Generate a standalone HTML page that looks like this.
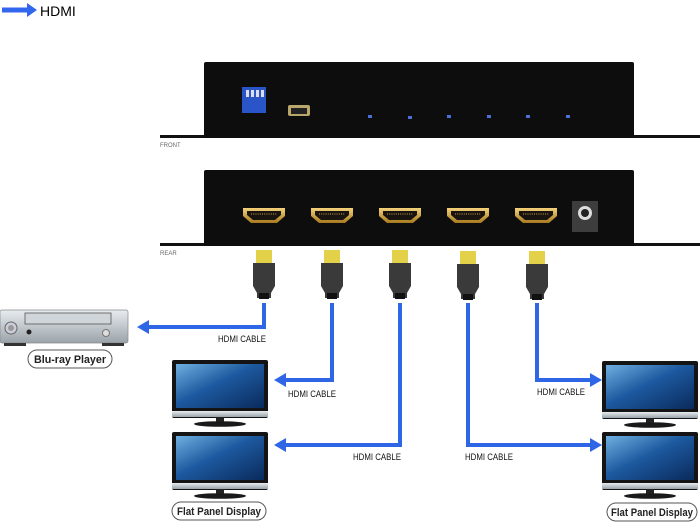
<!DOCTYPE html>
<html><head><meta charset="utf-8"><style>
html,body{margin:0;padding:0;background:#fff;}
svg{display:block;}
text{font-family:"Liberation Sans",Arial,sans-serif;}
</style></head><body>
<svg width="700" height="522" viewBox="0 0 700 522" xmlns="http://www.w3.org/2000/svg">
<defs>
<linearGradient id="scr" x1="0" y1="0" x2="1" y2="1">
<stop offset="0" stop-color="#6fb0e0"/><stop offset="0.45" stop-color="#1d5aa0"/><stop offset="1" stop-color="#0a2a5c"/>
</linearGradient>
<linearGradient id="silver" x1="0" y1="0" x2="0" y2="1">
<stop offset="0" stop-color="#e8ecef"/><stop offset="1" stop-color="#9aa3aa"/>
</linearGradient>
<linearGradient id="gold" x1="0" y1="0" x2="0" y2="1">
<stop offset="0" stop-color="#f3d27a"/><stop offset="1" stop-color="#a8791e"/>
</linearGradient>
<g id="tv">
<rect x="0" y="0" width="96" height="58" rx="2" fill="#141414"/>
<rect x="4" y="4" width="88" height="44" fill="url(#scr)"/>
<rect x="0" y="51" width="96" height="6" fill="url(#silver)"/>
<rect x="44" y="57" width="8" height="5" fill="#222"/>
<ellipse cx="48" cy="64" rx="26" ry="2.8" fill="#1a1a1a"/>
</g>
<g id="port">
<path d="M-21,-7 L21,-7 L21,1 L13,8 L-13,8 L-21,1 Z" fill="url(#gold)"/>
<path d="M-17,-4 L17,-4 L17,0 L11,5 L-11,5 L-17,0 Z" fill="#1a1410"/>
<line x1="-13" y1="-1" x2="13" y2="-1" stroke="#c9a24a" stroke-width="1" stroke-dasharray="1 1.2"/>
</g>
<g id="plug">
<rect x="-8" y="0" width="16" height="13" fill="#e3d14a"/>
<path d="M-11,13 L11,13 L11,36 L7,43 L7,48 L-7,48 L-7,43 L-11,36 Z" fill="#3a3a3a"/>
<rect x="-5" y="43" width="10" height="6" fill="#111"/>
</g>
</defs>

<line x1="2" y1="10" x2="28" y2="10" stroke="#3366ee" stroke-width="5"/>
<path d="M27,3 L37,10 L27,17 Z" fill="#3366ee"/>
<text x="40" y="16" font-size="14" fill="#000">HDMI</text>

<rect x="160" y="135" width="46" height="3" fill="#111"/>
<rect x="632" y="135" width="68" height="3" fill="#111"/>
<rect x="204" y="62" width="430" height="76" rx="2" fill="#0d0d0d"/>
<text x="160" y="147" font-size="6" fill="#666">FRONT</text>
<rect x="242" y="87" width="24" height="26" fill="#2a55c8"/>
<g fill="#dde">
<rect x="246" y="90" width="3" height="7"/><rect x="251" y="90" width="3" height="7"/><rect x="256" y="90" width="3" height="7"/><rect x="261" y="90" width="3" height="7"/>
</g>
<rect x="288" y="105" width="22" height="11" rx="2" fill="#b9a66a"/>
<rect x="291" y="108" width="16" height="6" fill="#222"/>
<g fill="#4a6fd8">
<rect x="368" y="115" width="4" height="3"/><rect x="408" y="116" width="4" height="3"/><rect x="447" y="115" width="4" height="3"/><rect x="487" y="115" width="4" height="3"/><rect x="526" y="115" width="4" height="3"/><rect x="566" y="115" width="4" height="3"/>
</g>

<rect x="160" y="243" width="46" height="3" fill="#111"/>
<rect x="632" y="243" width="68" height="3" fill="#111"/>
<rect x="204" y="170" width="430" height="76" rx="2" fill="#0d0d0d"/>
<text x="160" y="255" font-size="6" fill="#666">REAR</text>
<use href="#port" x="264" y="215"/>
<use href="#port" x="332" y="215"/>
<use href="#port" x="400" y="215"/>
<use href="#port" x="468" y="215"/>
<use href="#port" x="536" y="215"/>
<rect x="572" y="201" width="26" height="31" fill="#3d3d3d"/>
<circle cx="585" cy="213" r="7" fill="#ddd"/><circle cx="585" cy="213" r="4" fill="#222"/>

<g fill="none" stroke="#2f66e6" stroke-width="4">
<polyline points="264,303 264,327 146,327"/>
<polyline points="332,303 332,380 282,380"/>
<polyline points="400,303 400,445 282,445"/>
<polyline points="468,303 468,445 594,445"/>
<polyline points="537,303 537,380 594,380"/>
</g>
<g fill="#2f66e6">
<path d="M137,327 L149,320 L149,334 Z"/>
<path d="M274,380 L286,373 L286,387 Z"/>
<path d="M274,445 L286,438 L286,452 Z"/>
<path d="M602,445 L590,438 L590,452 Z"/>
<path d="M602,380 L590,373 L590,387 Z"/>
</g>
<use href="#plug" x="264" y="250"/>
<use href="#plug" x="332" y="250"/>
<use href="#plug" x="400" y="250"/>
<use href="#plug" x="468" y="251"/>
<use href="#plug" x="537" y="251"/>

<g font-size="9" fill="#111">
<text x="218" y="342" textLength="48" lengthAdjust="spacingAndGlyphs">HDMI CABLE</text>
<text x="288" y="397" textLength="48" lengthAdjust="spacingAndGlyphs">HDMI CABLE</text>
<text x="353" y="460" textLength="48" lengthAdjust="spacingAndGlyphs">HDMI CABLE</text>
<text x="465" y="460" textLength="48" lengthAdjust="spacingAndGlyphs">HDMI CABLE</text>
<text x="537" y="395" textLength="48" lengthAdjust="spacingAndGlyphs">HDMI CABLE</text>
</g>

<rect x="0" y="310" width="128" height="33" rx="2" fill="url(#silver)" stroke="#888" stroke-width="0.7"/>
<rect x="25" y="313" width="86" height="11" fill="#d0d5d9" stroke="#555" stroke-width="0.8"/>
<circle cx="11" cy="328" r="6" fill="#ccd" stroke="#666"/><circle cx="11" cy="328" r="3" fill="#999"/>
<circle cx="29" cy="332" r="2.5" fill="#222"/>
<circle cx="106" cy="333" r="3.5" fill="#ddd" stroke="#777"/>
<rect x="4" y="343" width="22" height="3" fill="#333"/><rect x="102" y="343" width="22" height="3" fill="#333"/>
<rect x="28" y="350" width="84" height="18" rx="9" fill="#fff" stroke="#555" stroke-width="1"/>
<text x="70" y="363" font-size="11" font-weight="bold" text-anchor="middle" fill="#222" textLength="72" lengthAdjust="spacingAndGlyphs">Blu-ray Player</text>

<use href="#tv" x="172" y="360"/>
<use href="#tv" x="172" y="432"/>
<use href="#tv" x="602" y="361"/>
<use href="#tv" x="602" y="432"/>
<rect x="172" y="502" width="94" height="18" rx="9" fill="#fff" stroke="#555"/>
<text x="219" y="515" font-size="11" font-weight="bold" text-anchor="middle" fill="#222" textLength="84" lengthAdjust="spacingAndGlyphs">Flat Panel Display</text>
<rect x="607" y="503" width="90" height="18" rx="9" fill="#fff" stroke="#555"/>
<text x="652" y="516" font-size="11" font-weight="bold" text-anchor="middle" fill="#222" textLength="82" lengthAdjust="spacingAndGlyphs">Flat Panel Display</text>
</svg>
</body></html>
